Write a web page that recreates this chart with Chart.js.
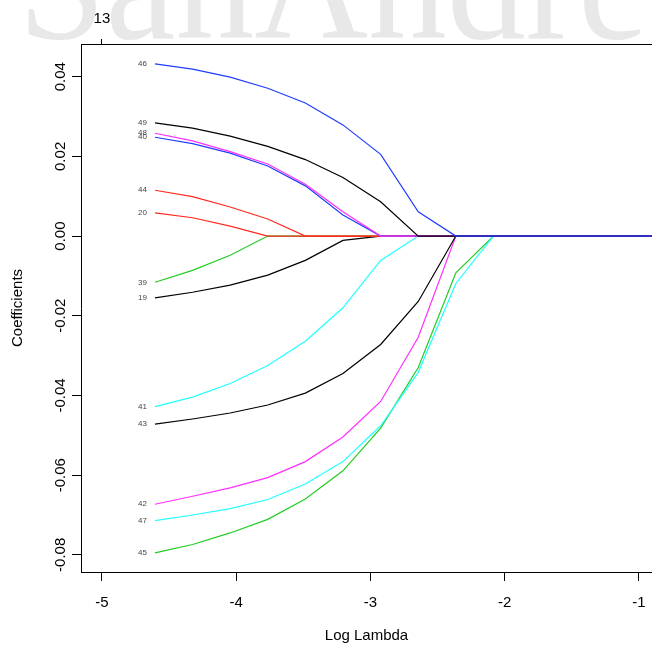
<!DOCTYPE html>
<html>
<head>
<meta charset="utf-8">
<script src="https://cdn.jsdelivr.net/npm/chart.js@4.4.1/dist/chart.umd.min.js"></script>
<style>
  html, body { margin: 0; padding: 0; background: #ffffff; }
  #wrap { width: 652px; height: 646px; }
</style>
</head>
<body>
<div id="wrap"><canvas id="c" width="652" height="646"></canvas></div>
<script>
// ---- data ----
const logLambda = [-4.605, -4.325, -4.045, -3.765, -3.485, -3.205, -2.924, -2.644, -2.364, -2.084, -1.804, -1.524, -1.244, -0.964, -0.684];

const varNames = ['46', '49', '48', '40', '44', '20', '39', '19', '41', '43', '42', '47', '45'];
const varColors = ['#1F3DFF', '#000000', '#FF2EFF', '#1F3DFF', '#FF2A1F', '#FF2A1F', '#22CC22', '#000000', '#22FFFF', '#000000', '#FF2EFF', '#22FFFF', '#22CC22'];

const coef46 = [0.0432, 0.0419, 0.0399, 0.0371, 0.0334, 0.0279, 0.0205, 0.0061, 0, 0, 0, 0, 0, 0, 0];
const coef49 = [0.0284, 0.0271, 0.0251, 0.0225, 0.0192, 0.0147, 0.0086, 0, 0, 0, 0, 0, 0, 0, 0];
const coef48 = [0.0258, 0.0239, 0.0212, 0.0181, 0.0130, 0.0061, 0, 0, 0, 0, 0, 0, 0, 0, 0];
const coef40 = [0.0248, 0.0232, 0.0208, 0.0176, 0.0126, 0.0053, 0, 0, 0, 0, 0, 0, 0, 0, 0];
const coef44 = [0.0115, 0.0099, 0.0073, 0.0043, 0, 0, 0, 0, 0, 0, 0, 0, 0, 0, 0];
const coef20 = [0.0058, 0.0046, 0.0025, 0, 0, 0, 0, 0, 0, 0, 0, 0, 0, 0, 0];
const coef39 = [-0.0116, -0.0086, -0.0048, 0, 0, 0, 0, 0, 0, 0, 0, 0, 0, 0, 0];
const coef19 = [-0.0155, -0.0141, -0.0123, -0.0098, -0.0061, -0.0011, 0, 0, 0, 0, 0, 0, 0, 0, 0];
const coef41 = [-0.0428, -0.0404, -0.0370, -0.0325, -0.0264, -0.0180, -0.0061, 0, 0, 0, 0, 0, 0, 0, 0];
const coef43 = [-0.0472, -0.0459, -0.0444, -0.0424, -0.0394, -0.0345, -0.0272, -0.0164, 0, 0, 0, 0, 0, 0, 0];
const coef42 = [-0.0673, -0.0653, -0.0632, -0.0606, -0.0566, -0.0504, -0.0415, -0.0254, 0, 0, 0, 0, 0, 0, 0];
const coef47 = [-0.0714, -0.0700, -0.0684, -0.0661, -0.0622, -0.0566, -0.0476, -0.0342, -0.0119, 0, 0, 0, 0, 0, 0];
const coef45 = [-0.0795, -0.0774, -0.0745, -0.0711, -0.0660, -0.0589, -0.0482, -0.0330, -0.0092, 0, 0, 0, 0, 0, 0];

const coefSeries = [coef46, coef49, coef48, coef40, coef44, coef20, coef39, coef19, coef41, coef43, coef42, coef47, coef45];

const xTickValues = [-5, -4, -3, -2, -1];
const xTickLabels = ['-5', '-4', '-3', '-2', '-1'];
const yTickValues = [0.04, 0.02, 0.00, -0.02, -0.04, -0.06, -0.08];
const yTickLabels = ['0.04', '0.02', '0.00', '-0.02', '-0.04', '-0.06', '-0.08'];
const topTickValues = [-5];
const topTickLabels = ['13'];

const xMin = -5.156, xMax = -0.903;
const yMin = -0.0843, yMax = 0.0482;

// ---- chart ----
const axisFont = { family: "'Liberation Sans', Arial, Helvetica, sans-serif", size: 15 };

const watermark = {
  id: 'watermark',
  beforeDraw(chart) {
    const ctx = chart.ctx;
    ctx.save();
    ctx.font = "165px 'Liberation Serif', 'Times New Roman', serif";
    ctx.fillStyle = '#e8e8e8';
    ctx.textBaseline = 'alphabetic';
    ctx.textAlign = 'left';
    const txt = 'SanAndre';
    const w = ctx.measureText(txt).width;
    const sx = 630 / w;
    ctx.translate(18, 38);
    ctx.scale(sx, 1);
    ctx.fillText(txt, 0, 0);
    ctx.restore();
  }
};

const varLabels = {
  id: 'varLabels',
  afterDatasetsDraw(chart) {
    const ctx = chart.ctx;
    ctx.save();
    ctx.font = "8px 'Liberation Sans', Arial, sans-serif";
    ctx.fillStyle = '#444444';
    ctx.textAlign = 'right';
    ctx.textBaseline = 'middle';
    chart.data.datasets.forEach((ds, i) => {
      const meta = chart.getDatasetMeta(i);
      const p = meta.data[0];
      ctx.fillText(ds.label, p.x - 8, p.y);
    });
    ctx.restore();
  }
};

const datasets = varNames.map((name, i) => ({
  label: name,
  data: logLambda.map((x, j) => ({ x: x, y: coefSeries[i][j] })),
  borderColor: varColors[i],
  backgroundColor: varColors[i],
  borderWidth: 1.2,
  pointRadius: 0,
  tension: 0,
  fill: false
}));

const noSidePad = s => { s.paddingLeft = 0; s.paddingRight = 0; };

new Chart(document.getElementById('c'), {
  type: 'line',
  data: { datasets: datasets },
  plugins: [watermark, varLabels],
  options: {
    responsive: false,
    animation: false,
    devicePixelRatio: 1,
    layout: { padding: 0 },
    plugins: { legend: { display: false }, tooltip: { enabled: false } },
    scales: {
      x: {
        type: 'linear', position: 'bottom', min: xMin, max: xMax,
        afterBuildTicks: s => { s.ticks = xTickValues.map(v => ({ value: v })); },
        afterFit: s => { s.height = 74; noSidePad(s); },
        grid: { display: true, drawOnChartArea: false, drawTicks: true, tickLength: 9, color: '#000', lineWidth: 1 },
        border: { display: true, color: '#000', width: 1 },
        ticks: { color: '#000', font: axisFont, padding: 13, maxRotation: 0, autoSkip: false,
                 callback: (v, i) => xTickLabels[i] },
        title: { display: true, text: 'Log Lambda', color: '#000', font: axisFont, padding: { top: 0, bottom: 1 } }
      },
      xTop: {
        type: 'linear', position: 'top', min: xMin, max: xMax,
        afterBuildTicks: s => { s.ticks = topTickValues.map(v => ({ value: v })); },
        afterFit: s => { s.height = 44; noSidePad(s); },
        grid: { display: true, drawOnChartArea: false, drawTicks: true, tickLength: 5, color: '#000', lineWidth: 1 },
        border: { display: true, color: '#000', width: 1 },
        ticks: { color: '#000', font: axisFont, padding: 11, maxRotation: 0, autoSkip: false,
                 callback: (v, i) => topTickLabels[i] }
      },
      y: {
        type: 'linear', position: 'left', min: yMin, max: yMax,
        afterBuildTicks: s => { s.ticks = yTickValues.map(v => ({ value: v })); },
        afterFit: s => { s.width = 81; s.paddingTop = 0; s.paddingBottom = 0; },
        grid: { display: true, drawOnChartArea: false, drawTicks: true, tickLength: 9, color: '#000', lineWidth: 1 },
        border: { display: true, color: '#000', width: 1 },
        ticks: { color: '#000', font: axisFont, padding: -6, minRotation: 90, maxRotation: 90, crossAlign: 'center', autoSkip: false,
                 callback: (v, i) => yTickLabels[i] },
        title: { display: true, text: 'Coefficients', color: '#000', font: axisFont, padding: { top: 9, bottom: 0 } }
      }
    }
  }
});
</script>
</body>
</html>
